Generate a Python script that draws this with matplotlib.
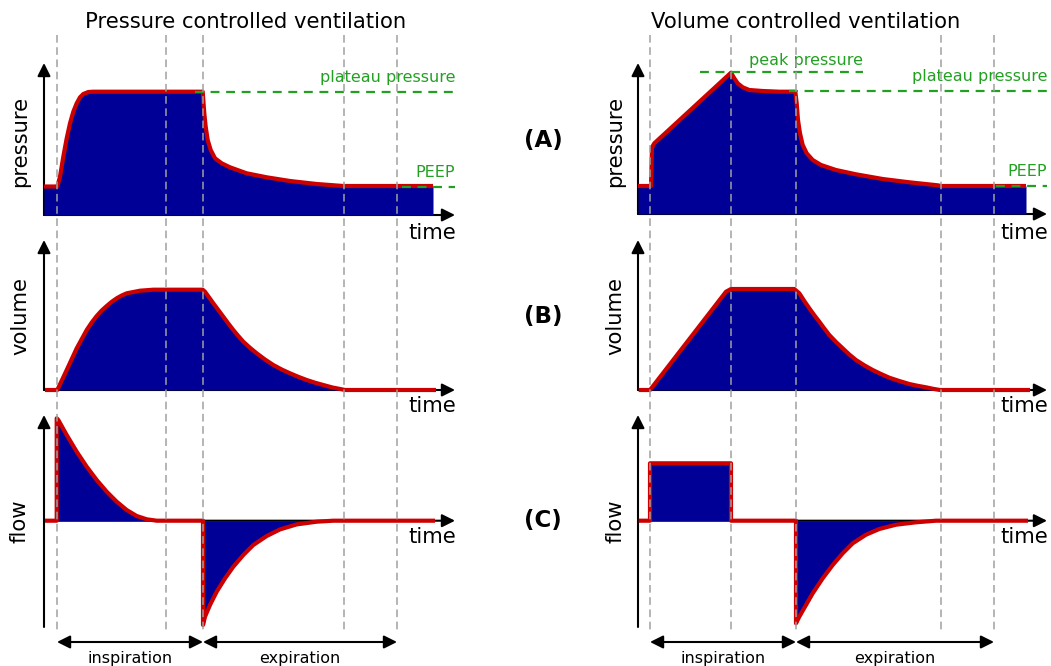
import matplotlib
matplotlib.use('Agg')
import matplotlib.pyplot as plt

W, H = 1051, 666

# ---------------- data (arbitrary units) ----------------
titles = ["Pressure controlled ventilation", "Volume controlled ventilation"]
row_tags = ["(A)", "(B)", "(C)"]
ylabels = ["pressure", "volume", "flow"]

# vertical event markers (time units)
pc_marks = [0.13, 1.22, 1.59, 3.00, 3.53]
vc_marks = [0.12, 0.93, 1.58, 3.03, 3.56]

# pressure controlled: pressure
pc_p_t = [0.0, 0.133, 0.16, 0.193, 0.227, 0.26, 0.293, 0.327, 0.36, 0.393, 0.443, 0.493,
          1.587, 1.593, 1.603, 1.617, 1.637, 1.667, 1.71, 1.777, 1.86, 2.027, 2.227, 2.46,
          2.727, 2.993, 3.89]
pc_p_v = [2.85, 2.85, 3.83, 5.83, 7.67, 9.17, 10.33, 11.17, 11.77, 12.1, 12.3, 12.33,
          12.33, 11.5, 10.17, 8.83, 7.5, 6.5, 5.67, 5.17, 4.77, 4.17, 3.77, 3.4,
          3.1, 2.9, 2.9]
# pressure controlled: volume
pc_v_t = [0.01, 0.133, 0.227, 0.327, 0.427, 0.477, 0.527, 0.577, 0.627, 0.677, 0.727, 0.777,
          0.827, 0.96, 1.093, 1.587, 1.61, 1.65, 1.693, 1.743, 1.793, 1.843, 1.893, 1.943,
          1.993, 2.06, 2.127, 2.21, 2.293, 2.377, 2.46, 2.543, 2.627, 2.71, 2.793, 2.885,
          2.977, 3.01, 3.92]
pc_v_v = [0.0, 0.0, 2.0, 4.17, 6.0, 6.75, 7.4, 7.95, 8.4, 8.82, 9.17, 9.45,
          9.67, 9.93, 10.03, 10.03, 9.83, 9.27, 8.67, 8.0, 7.33, 6.65, 6.0, 5.4,
          4.83, 4.22, 3.67, 3.05, 2.5, 2.05, 1.67, 1.32, 1.0, 0.73, 0.5, 0.25,
          0.07, 0.0, 0.0]
# pressure controlled: flow
pc_f_t = [0.01, 0.127, 0.127, 0.143, 0.227, 0.327, 0.427, 0.527, 0.627, 0.727, 0.827, 0.927,
          1.027, 1.127, 1.59, 1.59, 1.61, 1.66, 1.727, 1.81, 1.893, 1.993, 2.093, 2.227,
          2.36, 2.527, 2.727, 2.893, 3.91]
pc_f_v = [0.0, 0.0, 10.24, 10.07, 8.57, 6.9, 5.4, 4.07, 2.9, 1.9, 1.07, 0.47,
          0.14, 0.0, 0.0, -10.43, -9.6, -8.43, -7.1, -5.77, -4.6, -3.43, -2.43, -1.53,
          -0.87, -0.37, -0.1, 0.0, 0.0]

# volume controlled: pressure
vc_p_t = [0.0, 0.13, 0.14, 0.163, 0.93, 0.963, 0.997, 1.047, 1.113, 1.247, 1.413, 1.573,
          1.587, 1.60, 1.62, 1.647, 1.687, 1.747, 1.83, 1.98, 2.18, 2.447, 2.713, 2.997,
          3.03, 3.88]
vc_p_v = [2.8, 2.8, 6.67, 7.07, 14.13, 13.57, 13.07, 12.67, 12.4, 12.3, 12.23, 12.23,
          11.07, 9.4, 8.07, 6.9, 6.07, 5.4, 4.9, 4.4, 3.97, 3.5, 3.17, 2.87,
          2.8, 2.8]
# volume controlled: volume
vc_v_t = [0.007, 0.12, 0.88, 0.93, 1.563, 1.613, 1.663, 1.713, 1.763, 1.813, 1.863, 1.913,
          1.98, 2.047, 2.113, 2.18, 2.263, 2.347, 2.43, 2.513, 2.613, 2.713, 2.797, 2.88,
          2.95, 3.02, 3.92]
vc_v_v = [0.0, 0.0, 9.83, 10.1, 10.1, 9.67, 8.9, 8.17, 7.48, 6.83, 6.15, 5.5,
          4.8, 4.17, 3.55, 3.0, 2.47, 2.0, 1.6, 1.23, 0.9, 0.6, 0.42, 0.27,
          0.12, 0.0, 0.0]
# volume controlled: flow
vc_f_t = [0.007, 0.12, 0.12, 0.93, 0.93, 1.58, 1.58, 1.613, 1.68, 1.747, 1.847, 1.947,
          2.047, 2.147, 2.28, 2.413, 2.58, 2.78, 2.98, 3.9]
vc_f_v = [0.0, 0.0, 5.74, 5.74, 0.0, 0.0, -10.26, -9.6, -8.43, -7.26, -5.76, -4.43,
          -3.26, -2.26, -1.4, -0.83, -0.4, -0.16, 0.0, 0.0]

# reference levels
pc_levels = {"plateau pressure": 12.33, "PEEP": 2.85}
vc_levels = {"peak pressure": 14.2, "plateau pressure": 12.3, "PEEP": 2.8}

# ---------------- style ----------------
RED = '#cc0000'
BLUE = '#000096'
GREEN = '#22a022'
GREY = '#a0a0a0'
FS_BIG = 15.2
FS_SMALL = 11.5

plt.rcParams['font.family'] = ['DejaVu Sans']

fig = plt.figure(figsize=(W / 100, H / 100), dpi=100)


def px_axes(x0, x1, ytop, ybot):
    return fig.add_axes([x0 / W, 1 - ybot / H, (x1 - x0) / W, (ybot - ytop) / H])


def fig_text(x, y, s, **kw):
    fig.text(x / W, 1 - y / H, s, **kw)


arrow_kw = dict(arrowstyle='-|>,head_length=0.6,head_width=0.3', color='black',
                lw=1.5, mutation_scale=13, shrinkA=0, shrinkB=0)


def panel(ax, t, v, xmax, ylim):
    ax.set_xlim(0, xmax)
    ax.set_ylim(*ylim)
    ax.axis('off')
    # axes arrows
    ax.annotate('', xy=(1, 0), xytext=(0, 0), xycoords=('axes fraction', 'data'),
                textcoords=('axes fraction', 'data'), arrowprops=arrow_kw,
                annotation_clip=False, zorder=1)
    ax.annotate('', xy=(0, 1), xytext=(0, 0), xycoords='axes fraction',
                arrowprops=arrow_kw, annotation_clip=False, zorder=1)
    ax.fill_between(t, 0, v, color=BLUE, lw=0, zorder=2)
    ax.plot(t, v, color=RED, lw=3, solid_joinstyle='round', solid_capstyle='butt',
            zorder=3, clip_on=False)


columns = [
    dict(x0=44, x1=455, xmax=4.11, base_p=215, marks=pc_marks,
         data=[(pc_p_t, pc_p_v), (pc_v_t, pc_v_v), (pc_f_t, pc_f_v)], levels=pc_levels,
         ylab_x=20, title_x=246),
    dict(x0=638, x1=1047, xmax=4.09, base_p=214, marks=vc_marks,
         data=[(vc_p_t, vc_p_v), (vc_v_t, vc_v_v), (vc_f_t, vc_f_v)], levels=vc_levels,
         ylab_x=615, title_x=806),
]

for ci, col in enumerate(columns):
    x0, x1, xmax = col['x0'], col['x1'], col['xmax']
    # pressure
    axp = px_axes(x0, x1, 63, col['base_p'])
    panel(axp, *col['data'][0], xmax, (0, (col['base_p'] - 63) / 10))
    # volume
    axv = px_axes(x0, x1, 240, 390)
    panel(axv, *col['data'][1], xmax, (0, 15))
    # flow
    axf = px_axes(x0, x1, 415, 627)
    panel(axf, *col['data'][2], xmax, (-10.63, 10.57))

    # reference level lines & labels
    lv = col['levels']
    dash_kw = dict(color=GREEN, lw=1.6, dashes=(4, 3), zorder=4, clip_on=False)
    axp.plot([1.51, xmax], [lv['plateau pressure']] * 2, **dash_kw)
    axp.plot([3.58, xmax], [lv['PEEP']] * 2, **dash_kw)
    axp.text(xmax, lv['plateau pressure'] + 1.4, 'plateau pressure', color=GREEN,
             fontsize=FS_SMALL, ha='right', va='center')
    axp.text(xmax, lv['PEEP'] + 1.4, 'PEEP', color=GREEN, fontsize=FS_SMALL,
             ha='right', va='center')
    if 'peak pressure' in lv:
        axp.plot([0.62, 2.25], [lv['peak pressure']] * 2, **dash_kw)
        axp.text(1.68, lv['peak pressure'] + 1.2, 'peak pressure', color=GREEN,
                 fontsize=FS_SMALL, ha='center', va='center')

    # overlay for dashed event markers and phase arrows
    ov = fig.add_axes([x0 / W, 0, (x1 - x0) / W, 1])
    ov.set_xlim(0, xmax)
    ov.set_ylim(H, 0)
    ov.axis('off')
    ov.patch.set_visible(False)
    ov.set_zorder(10)
    m = col['marks']
    ov.vlines(m, 35, 630, colors=GREY, lw=1.1, linestyles=(0, (5, 3)))
    dbl = dict(arrowstyle='<|-|>,head_length=0.6,head_width=0.3', color='black',
               lw=1.5, mutation_scale=13, shrinkA=0, shrinkB=0)
    ov.annotate('', xy=(m[2], 642), xytext=(m[0], 642), arrowprops=dbl)
    ov.annotate('', xy=(m[4], 642), xytext=(m[2], 642), arrowprops=dbl)
    ov.text((m[0] + m[2]) / 2, 658, 'inspiration', fontsize=FS_SMALL, ha='center', va='center')
    ov.text((m[2] + m[4]) / 2, 658, 'expiration', fontsize=FS_SMALL, ha='center', va='center')

    # titles and axis labels
    fig_text(col['title_x'], 22, titles[ci], fontsize=FS_BIG, ha='center', va='center')
    for lab, yc in zip(ylabels, [141, 316, 521]):
        fig_text(col['ylab_x'], yc, lab, fontsize=FS_BIG, rotation=90,
                 ha='center', va='center')
    for yc in [233, 406, 537]:
        fig_text(x1 + 1, yc, 'time', fontsize=FS_BIG, ha='right', va='center')

for tag, yc in zip(row_tags, [140, 317, 521]):
    fig_text(543, yc, tag, fontsize=16.5, fontweight='bold', ha='center', va='center')

fig.savefig('out.png', dpi=100)
